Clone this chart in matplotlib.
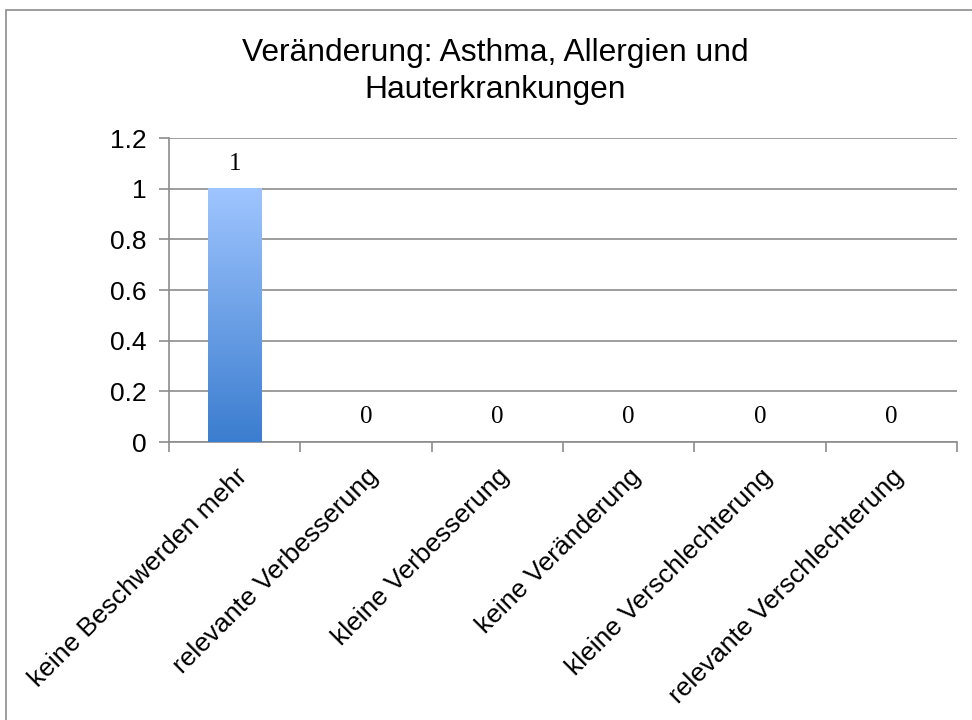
import matplotlib.pyplot as plt
import numpy as np
from matplotlib.patches import Rectangle

categories = ["keine Beschwerden mehr", "relevante Verbesserung", "kleine Verbesserung",
              "keine Veränderung", "kleine Verschlechterung", "relevante Verschlechterung"]
values = [1, 0, 0, 0, 0, 0]
y_ticks = [0, 0.2, 0.4, 0.6, 0.8, 1, 1.2]
y_tick_labels = ["0", "0.2", "0.4", "0.6", "0.8", "1", "1.2"]

plt.rcParams['font.family'] = ['Liberation Sans', 'DejaVu Sans']

fig = plt.figure(figsize=(9.72, 7.2), dpi=100)
ax = fig.add_axes([169 / 972, 1 - 442 / 720, 788 / 972, 304 / 720])

# outer chart border (only top/left visible)
fig.patches.append(Rectangle((6 / 972, -0.1), 1.2, 1.1 - 10 / 720, transform=fig.transFigure,
                             fill=False, edgecolor='#8c8c8c', linewidth=1.2))

x = np.arange(len(categories))
ax.set_xlim(-0.5, len(categories) - 0.5)
ax.set_ylim(0, 1.2)

# gradient bars
grad = np.linspace(0, 1, 256).reshape(-1, 1)
cmap = plt.matplotlib.colors.LinearSegmentedColormap.from_list('bar', ['#3b7dcf', '#9fc5ff'])
bar_w = 0.41
for xi, v in zip(x, values):
    if v > 0:
        ax.imshow(grad, cmap=cmap, origin='lower', aspect='auto',
                  extent=(xi - bar_w / 2, xi + bar_w / 2, 0, v), zorder=3)
    ax.annotate(str(v), (xi, v), xytext=(0, 18), textcoords='offset points',
                ha='center', va='center', fontsize=18, family='Liberation Serif', zorder=4)

ax.set_yticks(y_ticks)
ax.set_yticklabels(y_tick_labels, fontsize=19)
ax.yaxis.grid(True, color='#8c8c8c', linewidth=1.2, zorder=0)
ax.set_axisbelow(True)

ax.set_xticks(x)
ax.set_xticklabels(categories, rotation=45, ha='right', rotation_mode='anchor', fontsize=19)
ax.set_xticks(np.arange(len(categories) + 1) - 0.5, minor=True)
ax.tick_params(axis='x', which='major', length=0, pad=16)
ax.tick_params(axis='x', which='minor', length=7, color='#8c8c8c', width=1.2)
ax.tick_params(axis='y', length=7, color='#8c8c8c', width=1.2, pad=9)

for side in ['top', 'right']:
    ax.spines[side].set_visible(False)
for side in ['left', 'bottom']:
    ax.spines[side].set_color('#8c8c8c')
    ax.spines[side].set_linewidth(1.2)

fig.text(495 / 972, 1 - 61 / 720, "Veränderung: Asthma, Allergien und", fontsize=22.9,
         ha='center', va='baseline')
fig.text(495 / 972, 1 - 98 / 720, "Hauterkrankungen", fontsize=22.9, ha='center', va='baseline')

fig.savefig('out.png', dpi=100)
